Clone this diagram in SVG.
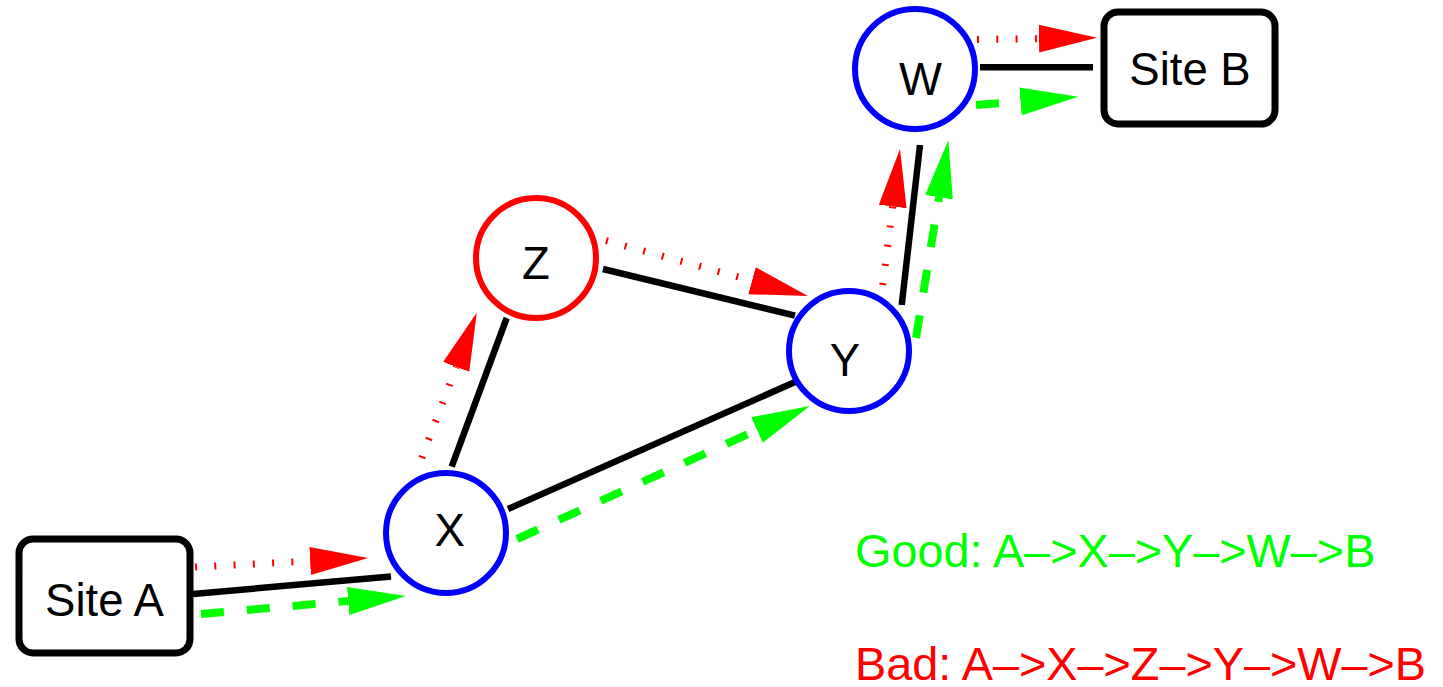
<svg xmlns="http://www.w3.org/2000/svg" width="1443" height="687" viewBox="0 0 1443 687">
<defs>
<style>
.box{fill:#fff;stroke:#000;stroke-width:7}
.blue{fill:#fff;stroke:#0000ff;stroke-width:6}
.redc{fill:#fff;stroke:#ff0000;stroke-width:6}
.lbl{font-family:"Liberation Sans",Arial,sans-serif;font-size:45.5px;fill:#000;text-anchor:middle}
.link{stroke:#000;stroke-width:6.5;fill:none}
.bad{stroke:#ff0000;stroke-width:7;stroke-dasharray:2 17.3;fill:none;marker-end:url(#ar)}
.good{stroke:#00ff00;stroke-width:8;stroke-dasharray:23 23;fill:none;marker-end:url(#ag)}
.leg{font-family:"Liberation Sans",Arial,sans-serif;font-size:46.8px}
</style>
<marker id="ar" markerUnits="userSpaceOnUse" markerWidth="58" markerHeight="28" refX="0" refY="14" orient="auto" viewBox="0 0 58 28">
<path d="M0,0 L58,14 L0,28 z" fill="#ff0000"/>
</marker>
<marker id="ag" markerUnits="userSpaceOnUse" markerWidth="58" markerHeight="28" refX="0" refY="14" orient="auto" viewBox="0 0 58 28">
<path d="M0,0 L58,14 L0,28 z" fill="#00ff00"/>
</marker>
</defs>
<rect width="1443" height="687" fill="#fff"/>
<g id="connectors">
<line class="link" x1="193" y1="594" x2="391" y2="576.5"/>
<line class="link" x1="451.7" y1="466.7" x2="506.7" y2="318"/>
<line class="link" x1="508" y1="509" x2="795" y2="382"/>
<line class="link" x1="603" y1="269" x2="795" y2="315.7"/>
<line class="link" x1="901.7" y1="305" x2="920" y2="145"/>
<line class="link" x1="980" y1="67.3" x2="1093" y2="67.3"/>
<path class="bad" d="M195,567 L310.1,561"/>
<path class="good" d="M201,614 L348.2,601"/>
<path class="bad" d="M421.7,458 L456.2,366.9"/>
<path class="good" d="M517,539 L757,430"/>
<path class="bad" d="M606,240.7 L752,280.7"/>
<path class="bad" d="M882.7,285 L892.7,206.5"/>
<path class="good" d="M916,338 L939,197.2"/>
<path class="bad" d="M977,39.5 L1039,38.6"/>
<path class="good" d="M976,105 L1020.5,101.4"/>
</g>
<g id="siteA"><rect class="box" x="19" y="539" width="171" height="114" rx="14"/><text class="lbl" x="104.5" y="615.5">Site A</text></g>
<g id="siteB"><rect class="box" x="1104" y="12" width="171" height="112" rx="14"/><text class="lbl" x="1190" y="85">Site B</text></g>
<g id="X"><circle class="blue" cx="446" cy="533" r="60"/><text class="lbl" x="449.7" y="546">X</text></g>
<g id="Z"><circle class="redc" cx="536" cy="258" r="60"/><text class="lbl" x="536" y="279">Z</text></g>
<g id="Y"><circle class="blue" cx="849" cy="351" r="60"/><text class="lbl" x="845" y="376">Y</text></g>
<g id="W"><circle class="blue" cx="915" cy="69" r="60"/><text class="lbl" x="920.5" y="95">W</text></g>
<g id="legend">
<text class="leg" x="855" y="567" fill="#00ff00">Good: A–&gt;X–&gt;Y–&gt;W–&gt;B</text>
<text class="leg" x="855" y="680" fill="#ff0000">Bad: A–&gt;X–&gt;Z–&gt;Y–&gt;W–&gt;B</text>
</g>
</svg>
